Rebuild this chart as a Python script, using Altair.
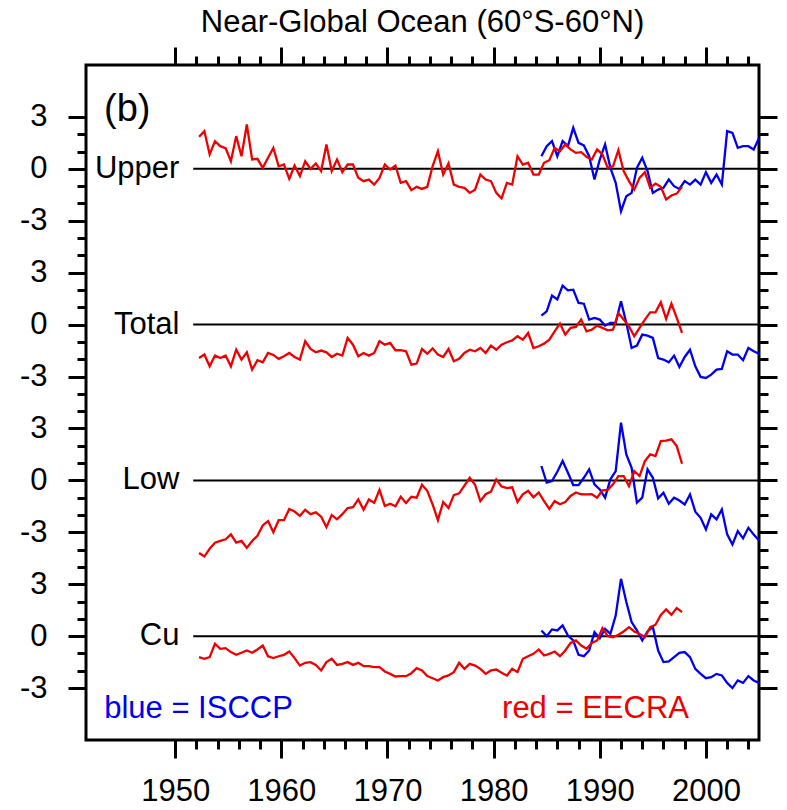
import altair as alt
import pandas as pd
import numpy as np

FONT = "Liberation Sans"

panels = ["Upper", "Total", "Low", "Cu"]
offsets = [0, -9, -18, -27]

# EECRA (red): half-year steps starting 1952.25
red_start, red_step = 1952.25, 0.5
red_upper = [1.85, 2.18, 0.83, 1.6, 1.31, 1.2, 0.44, 1.89, 0.73, 2.56, 0.54, 0.58, 0.06, 0.64, 1.21, 0.15,
             0.25, -0.58, 0.19, -0.42, 0.44, 0.0, 0.31, -0.13, 1.41, -0.13, 0.54, -0.19, 0.25, 0.25, -0.52,
             -0.71, -0.62, -0.91, -0.52, 0.25, -0.04, 0.19, -0.81, -0.71, -1.23, -1.04, -1.16, -1.04, 0.15,
             1.02, -0.33, 0.31, -0.91, -1.04, -1.1, -1.39, -1.2, -0.33, -0.62, -0.71, -1.39, -1.7, -0.81,
             -0.91, 0.73, 0.25, 0.35, -0.33, -0.33, 0.35, 0.5, 1.21, 1.02, 1.41, 1.12, 0.92, 0.96, 0.69, 0.54,
             1.12, 0.83, 0.06, 0.15, 1.08, -0.13, -0.71, -1.2, -0.52, -0.19, -1.1, -0.85, -1.04, -1.77, -1.54,
             -1.43, -1.04]
red_total = [-1.93, -1.73, -2.41, -1.79, -1.93, -1.79, -2.41, -1.45, -2.02, -1.6, -2.6, -2.06, -2.18, -1.64,
             -1.75, -1.98, -1.83, -1.64, -1.87, -2.02, -0.96, -1.41, -1.6, -1.5, -1.6, -1.87, -1.68, -1.79,
             -0.77, -1.16, -1.83, -1.64, -1.79, -1.64, -0.96, -1.16, -1.06, -1.48, -1.48, -1.54, -2.31, -2.25,
             -1.41, -1.68, -1.37, -1.73, -1.87, -1.41, -2.12, -1.98, -1.64, -1.45, -1.54, -1.35, -1.64, -1.21,
             -1.45, -1.16, -1.02, -0.91, -0.67, -0.87, -0.48, -1.35, -1.25, -1.1, -0.87, -0.39, 0.06, -0.58,
             -0.19, -0.13, 0.29, -0.39, -0.29, -0.06, -0.19, -0.33, -0.29, 0.67, 0.29, -0.1, -0.67, -0.19, 0.29,
             0.71, 0.71, 1.29, 0.33, 1.21, 0.39, -0.48]
red_low = [-4.2, -4.4, -3.95, -3.6, -3.5, -3.4, -3.12, -3.6, -3.5, -3.9, -3.5, -3.2, -2.6, -2.35, -3.0, -2.3,
           -2.3, -1.65, -1.8, -2.05, -1.7, -1.95, -1.85, -2.1, -2.7, -2.0, -2.25, -1.95, -1.6, -1.55, -1.1, -1.7,
           -1.1, -1.3, -0.55, -1.48, -1.35, -1.5, -0.95, -1.3, -0.95, -1.0, -0.25, -0.6, -1.38, -2.3, -1.25,
           -1.6, -0.85, -0.75, -0.3, 0.15, -0.25, -1.2, -0.8, -0.65, 0.05, -0.35, -0.45, -0.4, -1.25, -0.8,
           -0.6, -0.98, -0.7, -1.2, -1.65, -1.2, -1.38, -1.25, -0.9, -0.7, -0.8, -0.81, -0.8, -1.0, -0.58,
           -0.55, -0.23, 0.25, 0.25, -0.33, 0.54, 0.25, 1.12, 1.5, 1.4, 2.27, 2.3, 2.37, 1.98, 0.96]
red_cu = [-1.21, -1.31, -1.21, -0.44, -0.73, -0.69, -0.92, -1.08, -0.96, -0.83, -0.96, -0.77, -0.54, -1.16,
          -1.27, -1.16, -1.08, -0.89, -1.27, -1.7, -1.54, -1.5, -1.66, -1.98, -1.5, -1.31, -1.66, -1.6, -1.5,
          -1.66, -1.54, -1.73, -1.73, -1.79, -1.79, -2.04, -2.18, -2.33, -2.31, -2.31, -2.14, -1.85, -1.98,
          -2.31, -2.43, -2.56, -2.37, -2.27, -2.08, -1.54, -1.89, -1.6, -1.7, -1.89, -2.18, -1.98, -1.93, -2.12,
          -2.27, -1.89, -2.08, -1.31, -1.16, -1.02, -0.77, -1.12, -1.02, -0.89, -1.16, -0.83, -0.39, -0.25,
          -0.54, -0.73, -0.39, -0.25, 0.46, 0.0, -0.06, 0.08, 0.27, 0.52, 0.27, 0.13, -0.06, 0.52, 0.66, 1.23,
          1.54, 1.23, 1.62, 1.39]

# ISCCP (blue): half-year steps starting 1984.5
blue_start, blue_step = 1984.5, 0.5
blue_upper = [0.73, 1.31, 1.6, 0.73, 1.6, 1.31, 2.37, 1.5, 1.35, 0.73, -0.62, 0.54, 1.41, 0.06, -0.81, -2.45,
              -1.58, -1.39, 0.06, 0.64, -0.13, -1.39, -1.2, -1.1, -0.62, -1.0, -1.16, -0.71, -0.91, -0.62, -0.91,
              -0.19, -0.81, -0.33, -0.91, 2.18, 2.08, 1.21, 1.31, 1.31, 1.12, 1.79]
blue_total = [0.52, 0.77, 1.68, 1.45, 2.25, 1.98, 2.02, 1.25, 1.21, 0.29, 0.39, 0.29, -0.06, 0.1, 0.1, 1.35,
              0.1, -1.35, -1.21, -0.58, -0.64, -0.77, -1.93, -2.02, -2.18, -1.79, -2.45, -1.87, -1.45, -2.41,
              -3.02, -3.08, -2.89, -2.6, -2.56, -1.54, -1.73, -1.73, -2.06, -1.35, -1.54, -1.68]
blue_low = [0.83, -0.13, -0.04, 0.5, 1.12, 0.44, -0.27, -0.27, 0.15, 0.64, -0.23, -0.52, -1.0, 0.06, 0.54, 3.33,
            1.5, 0.73, -1.29, -1.0, 0.64, 0.15, -1.04, -0.71, -1.35, -1.0, -1.16, -1.39, -0.81, -1.81, -2.16,
            -2.83, -1.96, -2.25, -1.68, -3.12, -3.7, -2.93, -3.35, -2.74, -3.12, -3.47]
blue_cu = [0.33, 0.0, 0.39, 0.33, 0.62, 0.04, -0.25, -1.08, -1.16, -0.83, 0.23, -0.12, 0.42, 0.13, 1.19, 3.31,
           1.97, 0.81, 0.33, -0.25, 0.27, 0.52, -0.83, -1.5, -1.46, -1.21, -0.96, -0.92, -1.21, -1.89, -2.18,
           -2.43, -2.37, -2.18, -2.27, -2.7, -3.0, -2.56, -2.7, -2.31, -2.56, -2.7]

red_series = [red_upper, red_total, red_low, red_cu]
blue_series = [blue_upper, blue_total, blue_low, blue_cu]

rows = []
for p, off, rv, bv in zip(panels, offsets, red_series, blue_series):
    for i, v in enumerate(rv):
        rows.append({"year": red_start + red_step * i, "y": v + off, "source": "EECRA", "series": p + "-EECRA"})
    for i, v in enumerate(bv):
        rows.append({"year": blue_start + blue_step * i, "y": v + off, "source": "ISCCP", "series": p + "-ISCCP"})
df = pd.DataFrame(rows)

zero_start, zero_end = 1951.7, 2005.0
zero_df = pd.DataFrame({"x0": [zero_start] * 4, "x1": [zero_end] * 4, "y": offsets})

label_x = 1950.4
labels_df = pd.DataFrame({"x": [label_x] * 4, "y": offsets, "text": panels})

xdom = [1941.6, 2005.0]
ydom = [-33, 6]
xscale = alt.Scale(domain=xdom, nice=False, zero=False)
yscale = alt.Scale(domain=ydom, nice=False, zero=False)

x_ticks = list(range(1950, 2005, 2))
y_ticks = list(range(-30, 4))

FS = 31
common_axis = dict(
    domain=False, grid=False, tickColor="black", tickWidth=3, title=None,
    labelFont=FONT, labelFontSize=FS, labelColor="black",
)
x_label_expr = "datum.value % 10 === 0 ? '' + datum.value : ''"
x_ticksize = {"condition": {"test": "datum.value % 10 === 0", "value": 18}, "value": 9}
y_label_expr = "datum.value % 3 === 0 ? '' + (datum.value - round(datum.value / 9) * 9) : ''"
y_ticksize = {"condition": {"test": "datum.value % 3 === 0", "value": 18}, "value": 9}

x_bottom = alt.Axis(orient="bottom", values=x_ticks, labelExpr=x_label_expr, tickSize=x_ticksize,
                    labelPadding=18, **common_axis)
x_top = alt.Axis(orient="top", values=x_ticks, labels=False, tickSize=x_ticksize, **common_axis)
y_left = alt.Axis(orient="left", values=y_ticks, labelExpr=y_label_expr, tickSize=y_ticksize,
                  labelPadding=21, **common_axis)
y_right = alt.Axis(orient="right", values=y_ticks, labels=False, tickSize=y_ticksize, **common_axis)

zero_layer = alt.Chart(zero_df).mark_rule(color="black", strokeWidth=2).encode(
    x=alt.X("x0:Q", scale=xscale, axis=x_bottom),
    x2="x1:Q",
    y=alt.Y("y:Q", scale=yscale, axis=y_left),
)

blue_layer = alt.Chart(df[df.source == "ISCCP"]).mark_line(color="#0000ee", strokeWidth=2.3).encode(
    x=alt.X("year:Q", scale=xscale, axis=x_top),
    y=alt.Y("y:Q", scale=yscale, axis=y_right),
    detail="series:N",
)
red_layer = alt.Chart(df[df.source == "EECRA"]).mark_line(color="#ee0000", strokeWidth=2.3).encode(
    x=alt.X("year:Q", scale=xscale, axis=None),
    y=alt.Y("y:Q", scale=yscale, axis=None),
    detail="series:N",
)

panel_labels = alt.Chart(labels_df).mark_text(align="right", baseline="middle", font=FONT, fontSize=FS,
                                              color="black").encode(
    x=alt.X("x:Q", scale=xscale, axis=None),
    y=alt.Y("y:Q", scale=yscale, axis=None),
    text="text:N",
)

notes_df = pd.DataFrame({
    "x": [1943.3, 1952.2, 1989.6],
    "y": [3.4, -31.2, -31.2],
    "text": ["(b)", "blue = ISCCP", "red = EECRA"],
    "color": ["black", "#0000ee", "#ee0000"],
})
b_label = alt.Chart(notes_df.iloc[[0]]).mark_text(align="left", baseline="middle", font=FONT, fontSize=38,
                                                 color="black").encode(
    x=alt.X("x:Q", scale=xscale, axis=None), y=alt.Y("y:Q", scale=yscale, axis=None), text="text:N")
legend_text = alt.Chart(notes_df.iloc[[1, 2]]).mark_text(align="center", baseline="middle", font=FONT,
                                                        fontSize=FS).encode(
    x=alt.X("x:Q", scale=xscale, axis=None), y=alt.Y("y:Q", scale=yscale, axis=None), text="text:N",
    color=alt.Color("color:N", scale=None))

chart = alt.layer(zero_layer, blue_layer, red_layer, panel_labels, b_label, legend_text).resolve_axis(
    x="independent", y="independent"
).properties(
    width=673, height=675,
    title=alt.TitleParams("Near-Global Ocean (60°S-60°N)", font=FONT, fontSize=FS, fontWeight="normal",
                          color="black", anchor="middle", offset=7),
    autosize=alt.AutoSizeParams(type="none"),
    padding={"left": 86, "top": 65, "right": 28, "bottom": 70},
).configure_view(stroke="black", strokeWidth=3)

chart.save("out.html", embed_options={"renderer": "svg", "actions": False})
